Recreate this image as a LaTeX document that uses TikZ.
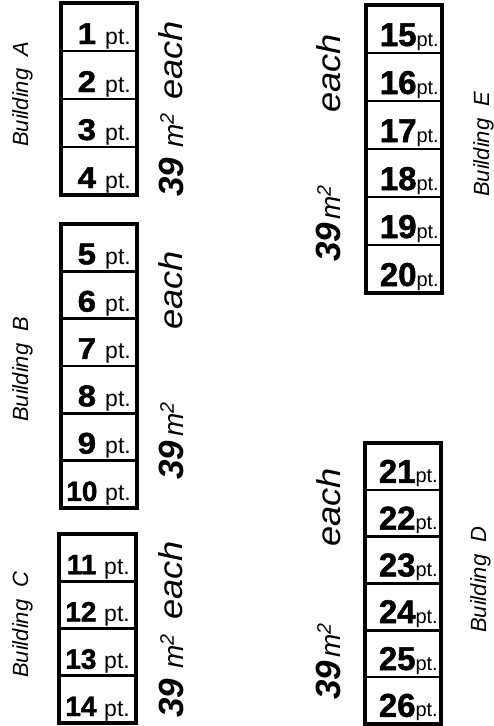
\documentclass[tikz,border=0pt]{standalone}
\usepackage{fontspec}
\setmainfont{Liberation Sans}
\newfontfamily\heavy{Liberation Sans}[FakeStretch=1.1,BoldFeatures={FakeBold=1.5}]
\newfontfamily\heavyn{Liberation Sans}[BoldFeatures={FakeBold=1.5}]
\begin{document}
\begin{tikzpicture}[x=1pt,y=-1pt,
  cell/.style={draw,line width=2.6pt,inner sep=0pt,outer sep=0pt,anchor=north west,minimum width=76pt},
  outer/.style={line width=3.4pt},
  numa/.style={anchor=base east,inner sep=0pt,font=\fontsize{30}{32}\heavy\bfseries},
  numb/.style={anchor=base east,inner sep=0pt,font=\fontsize{28}{30}\heavyn\bfseries},
  numde/.style={anchor=base east,inner sep=0pt,font=\fontsize{33}{35}\heavyn\bfseries},
  bld/.style={rotate=90,anchor=base west,inner sep=0pt,font=\fontsize{22}{24}\selectfont\itshape},
  area/.style={rotate=90,anchor=base west,inner sep=0pt,font=\fontsize{28}{30}\selectfont\itshape},
  eachs/.style={rotate=90,anchor=base west,inner sep=0pt,font=\fontsize{33}{35}\selectfont\itshape}]
\useasboundingbox (0,0) rectangle (494,726);
\newcommand\ptabc{\fontsize{23}{25}\normalfont pt.}
\newcommand\ptde{\fontsize{20}{22}\normalfont pt.}
\newcommand\bignum[1]{{\fontsize{35}{37}\selectfont\bfseries #1}}
% Building A
\foreach \i in {1,...,4}{
  \node[cell,minimum height=48pt] (c\i) at (61,{3+48*(\i-1)}) {};
  \node[numa] (t\i) at ([xshift=-6pt,yshift=7pt]c\i.south east) {\i\ \ptabc};
}
\draw[outer] (c1.north west) rectangle (c4.south east);
% Building B
\foreach \i in {5,...,9}{
  \node[cell,minimum height=47.33pt] (c\i) at (61,{224+47.33*(\i-5)}) {};
  \node[numa] (t\i) at ([xshift=-6pt,yshift=7pt]c\i.south east) {\i\ \ptabc};
}
\node[cell,minimum height=47.33pt] (c10) at (61,{224+47.33*5}) {};
\node[numb] (t10) at ([xshift=-6pt,yshift=7pt]c10.south east) {10\ \ptabc};
\draw[outer] (c5.north west) rectangle (c10.south east);
% Building C
\foreach \i in {11,...,14}{
  \node[cell,minimum height=47.25pt,minimum width=77pt] (c\i) at (59,{534+47.25*(\i-11)}) {};
  \node[numb] (t\i) at ([xshift=-6pt,yshift=7pt]c\i.south east) {\i\ \ptabc};
}
\draw[outer] (c11.north west) rectangle (c14.south east);
% Building E
\foreach \i in {15,...,20}{
  \node[cell,minimum height=48pt] (c\i) at (366,{5+48*(\i-15)}) {};
  \node[numde] (t\i) at ([xshift=-3pt,yshift=7pt]c\i.south east) {\i\ptde};
}
\draw[outer] (c15.north west) rectangle (c20.south east);
% Building D
\foreach \i in {21,...,26}{
  \node[cell,minimum height=46.8pt] (c\i) at (365,{443+46.8*(\i-21)}) {};
  \node[numde] (t\i) at ([xshift=-3pt,yshift=7pt]c\i.south east) {\i\ptde};
}
\draw[outer] (c21.north west) rectangle (c26.south east);
% building labels
\node[bld] (bA) at (28,147) {Building\hspace{12pt}A};
\node[bld] (bB) at (28,422) {Building\hspace{12pt}B};
\node[bld] (bC) at (28,678) {Building\hspace{12pt}C};
\node[bld] (bE) at (489,197) {Building\hspace{12pt}E};
\node[bld] (bD) at (486,633) {Building\hspace{12pt}D};
% area labels
\node[area] (mA) at (183,197) {\bignum{39}\hspace{10pt}m\textsuperscript{2}};
\node[eachs] (eA) at (182,100) {\scalebox{1.1}[1]{each}};
\node[area] (mB) at (183,480) {\bignum{39}\hspace{4pt}m\textsuperscript{2}};
\node[eachs] (eB) at (182,330) {\scalebox{1.1}[1]{each}};
\node[area] (mC) at (183,718) {\bignum{39}\hspace{10pt}m\textsuperscript{2}};
\node[eachs] (eC) at (182,620) {\scalebox{1.1}[1]{each}};
\node[area] (mE) at (340,262) {\bignum{39}\hspace{3pt}m\textsuperscript{2}};
\node[eachs] (eE) at (340,113) {\scalebox{1.1}[1]{each}};
\node[area] (mD) at (340,700) {\bignum{39}\hspace{3pt}m\textsuperscript{2}};
\node[eachs] (eD) at (340,547) {\scalebox{1.1}[1]{each}};
\end{tikzpicture}
\end{document}
